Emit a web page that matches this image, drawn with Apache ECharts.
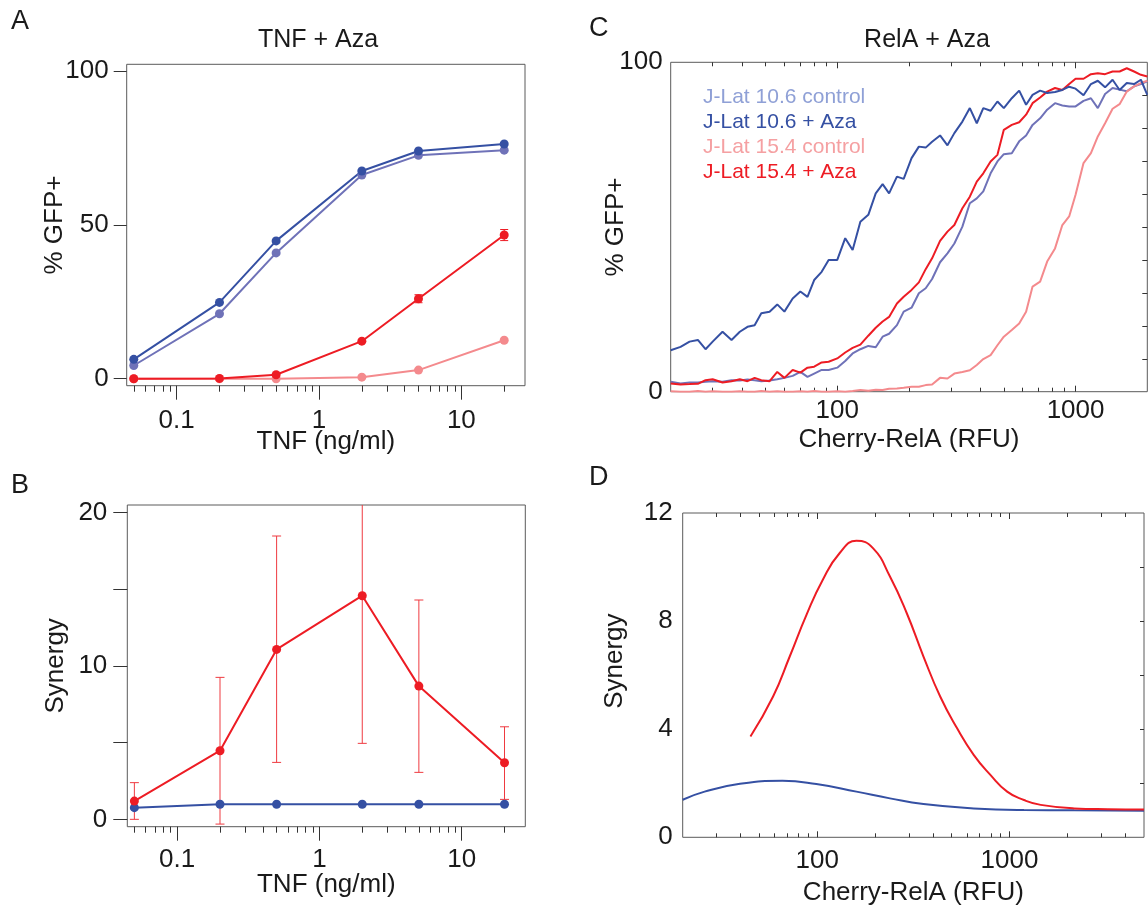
<!DOCTYPE html>
<html>
<head>
<meta charset="utf-8">
<title>TNF / RelA + Aza</title>
<script src="https://cdn.jsdelivr.net/npm/echarts@6/dist/echarts.min.js"></script>
<style>
  html, body { margin: 0; padding: 0; background: #fff; }
  #chart { width: 1148px; height: 913px; }
</style>
</head>
<body>
<div id="chart"></div>
<script>
// ---- panel A / B : TNF dose response ----
var tnfDose = [0.05, 0.2, 0.5, 2, 5, 20];
var gfpCtrl106 = [4.3, 21.1, 40.9, 66.2, 72.6, 74.3];
var gfpAza106 = [6.3, 24.8, 44.8, 67.5, 74.0, 76.3];
var gfpCtrl154 = [0, 0, 0, 0.5, 2.8, 12.5];
var gfpAza154 = [0, 0.1, 1.3, 12.2, 26.0, 46.7];
var gfpAza154Err = [0, 0, 0, 0, 1.3, 1.8];

var synergy106 = [0.76, 0.98, 0.98, 0.98, 0.98, 0.98];
var synergy154 = [1.19, 4.47, 11.07, 14.57, 8.68, 3.69];
var synergy154Lo = [0.0, -0.31, 3.71, 4.95, 3.06, 1.30];
var synergy154Hi = [2.39, 9.25, 18.46, 21.0, 14.29, 6.03];

var tnfMinorTicks = [0.05, 0.06, 0.07, 0.08, 0.09, 0.2, 0.3, 0.4, 0.5, 0.6, 0.7, 0.8, 0.9, 2, 3, 4, 5, 6, 7, 8, 9, 20];
var tnfMajorTicks = [0.1, 1, 10];
var gfpTicks = [0, 50, 100];
var synTnfTicks = [0, 5, 10, 15, 20];
var synTnfLabels = [0, 10, 20];

// ---- panel C : %GFP+ vs Cherry-RelA ----
var relaX = [20, 22, 24, 26, 28, 30, 33, 36, 39, 42, 45, 48, 52, 56, 60, 65, 70, 75, 80, 86, 92, 100,
  108, 116, 125, 135, 145, 155, 165, 178, 190, 205, 220, 235, 250, 270, 290, 310, 335, 360, 385, 410,
  440, 470, 500, 540, 580, 620, 660, 710, 760, 820, 880, 940, 1000, 1080, 1160, 1240, 1330, 1430,
  1530, 1640, 1760, 1880, 2000];
var relaCtrl106 = [3.0, 2.5, 2.8, 2.8, 3.0, 3.2, 3.0, 3.5, 3.4, 3.7, 3.5, 3.2, 3.4, 3.8, 4.2, 4.8, 6.0,
  4.5, 5.5, 6.6, 6.6, 7.3, 9.3, 11.6, 12.9, 13.9, 13.5, 16.7, 17.6, 20.2, 24.3, 25.5, 29.9, 31.4, 34.2,
  39.3, 42.0, 45.0, 50.1, 57.2, 58.7, 60.8, 66.3, 69.9, 72.1, 72.4, 76.0, 77.8, 81.0, 83.0, 85.6, 87.6,
  86.9, 86.6, 86.6, 88.3, 89.1, 86.1, 90.4, 92.2, 91.7, 91.2, 92.7, 93.4, 94.2];
var relaAza106 = [12.6, 13.6, 15.2, 15.7, 12.9, 15.2, 18.2, 15.7, 18.2, 19.7, 20.2, 23.8, 24.3, 26.5,
  24.3, 28.3, 30.4, 28.8, 33.9, 36.4, 40.0, 40.0, 46.6, 43.0, 51.6, 53.7, 60.2, 63.0, 60.2, 65.3, 64.6,
  70.9, 74.4, 74.1, 75.9, 77.8, 74.8, 78.5, 82.0, 86.1, 81.5, 86.1, 85.3, 88.1, 86.1, 89.1, 91.4, 87.1,
  90.1, 91.4, 90.7, 91.0, 91.6, 92.6, 92.0, 90.0, 93.4, 94.4, 92.4, 94.7, 91.6, 93.7, 93.4, 94.7, 90.1];
var relaCtrl154 = [0.1, 0, 0, 0.2, 0, 0.1, 0, 0, 0.1, 0, 0, 0.2, 0, 0.1, 0, 0, 0.1, 0, 0.2, 0, 0, 0.1,
  0, 0.2, 0.5, 0.3, 0.6, 0.5, 0.9, 1.0, 1.2, 1.5, 1.5, 2.0, 2.2, 4.2, 4.0, 5.5, 6.0, 6.5, 8.1, 9.9,
  11.1, 14.1, 16.7, 18.7, 20.7, 24.3, 31.9, 33.4, 39.5, 43.5, 50.6, 53.2, 59.8, 69.4, 72.4, 77.5, 81.5,
  85.9, 87.3, 91.1, 92.7, 93.7, 94.4];
var relaAza154 = [2.5, 2.2, 2.3, 2.4, 3.5, 3.8, 2.8, 3.2, 3.8, 3.2, 4.2, 3.5, 3.2, 6.0, 4.2, 6.6, 5.8,
  7.3, 7.6, 8.9, 9.1, 10.1, 11.9, 13.3, 14.3, 17.0, 19.4, 21.3, 22.7, 26.8, 28.8, 30.9, 33.2, 37.2, 40.5,
  45.8, 48.6, 50.6, 55.7, 59.2, 63.8, 66.3, 69.9, 71.9, 79.5, 81.0, 81.8, 84.1, 87.6, 89.3, 91.1, 92.2,
  91.6, 93.4, 95.0, 95.0, 96.4, 96.7, 96.4, 97.2, 97.2, 98.2, 97.2, 96.2, 95.7];

// ---- panel D : synergy vs Cherry-RelA ----
var synRelaX154 = [45, 59, 72, 88, 107, 131, 160, 195, 239, 292, 357, 436, 533, 651, 795, 972, 1188, 1452, 2168, 3242, 5000];
var synRela154 = [3.73, 5.21, 6.69, 8.23, 9.53, 10.52, 10.97, 10.70, 9.65, 8.30, 6.69, 5.21, 4.04, 3.05, 2.31, 1.69, 1.38, 1.20, 1.07, 1.04, 1.03];
var synRelaX106 = [20, 26, 39, 66, 99, 160, 239, 357, 651, 1188, 2168, 5000];
var synRela106 = [1.39, 1.69, 1.97, 2.09, 1.97, 1.69, 1.44, 1.23, 1.07, 1.01, 1.0, 0.98];

var relaMinorC = [30, 40, 50, 60, 70, 80, 90, 200, 300, 400, 500, 600, 700, 800, 900];
var relaMinorD = [30, 40, 50, 60, 70, 80, 90, 200, 300, 400, 500, 600, 700, 800, 900, 2000, 3000, 4000];
var relaMajor = [100, 1000];
var gfpRelaLabels = [0, 100];
var gfpRelaTicks = [10, 20, 30, 40, 50, 60, 70, 80, 90];
var synRelaLabels = [0, 4, 8, 12];
var synRelaTicks = [2, 4, 6, 8, 10];

var FONT = "'Liberation Sans', Arial, Helvetica, sans-serif";
var TEXT = '#1a1a1a';
var TICK = '#333';
var BORDER = '#5a5a5a';
var DARKBLUE = '#3550a3';
var LIGHTBLUE = '#6f72b8';
var RED = '#ed1c24';
var PINK = '#f48a8d';
var TICK_FONT = 26;
var NAME_FONT = 26;

var tnfRange = [0.0446, 28];
var relaRangeC = [20, 2000];
var relaRangeD = [20, 5000];

function pairs(xs, ys) {
  return xs.map(function (x, i) { return [x, ys[i]]; });
}

function logLabel(v) {
  var n = Math.pow(10, v);
  return n < 1 ? n.toFixed(1) : String(Math.round(n));
}

function xData(grid, range) {
  return { type: 'log', logBase: 10, gridIndex: grid, min: range[0], max: range[1], show: false,
    axisLine: { onZero: false } };
}

function xTicks(grid, range, ticks, len, inside, position) {
  return {
    type: 'value', gridIndex: grid, position: position,
    min: Math.log10(range[0]), max: Math.log10(range[1]),
    axisLine: { show: false, onZero: false },
    splitLine: { show: false },
    axisTick: { show: true, inside: inside, length: len,
      customValues: ticks.map(function (v) { return Math.log10(v); }),
      lineStyle: { color: TICK, width: 1 } },
    axisLabel: { show: false }
  };
}

function xLabelled(grid, range, ticks, len, inside, labels, margin, name, nameGap) {
  var ax = xTicks(grid, range, ticks, len, inside, 'bottom');
  ax.axisLabel = { show: true, customValues: labels.map(function (v) { return Math.log10(v); }),
    formatter: logLabel, margin: margin, fontSize: TICK_FONT, color: TEXT };
  ax.name = name;
  ax.nameLocation = 'middle';
  ax.nameGap = nameGap;
  ax.nameMoveOverlap = false;
  ax.nameTextStyle = { fontSize: NAME_FONT, color: TEXT };
  return ax;
}

function yAxisDef(grid, range, ticks, tickLen, labels, margin, name, nameGap, position, inside, namePad) {
  return {
    type: 'value', gridIndex: grid, position: position || 'left',
    min: range[0], max: range[1],
    axisLine: { show: false, onZero: false },
    splitLine: { show: false },
    axisTick: { show: ticks.length > 0, inside: !!inside, length: tickLen, customValues: ticks,
      lineStyle: { color: TICK, width: 1 } },
    axisLabel: labels.length ? { show: true, customValues: labels, margin: margin, fontSize: TICK_FONT, color: TEXT }
      : { show: false },
    name: name || '', nameLocation: 'middle', nameGap: nameGap || 0, nameMoveOverlap: false,
    nameTextStyle: { fontSize: NAME_FONT, color: TEXT, padding: namePad || 0 }
  };
}

function errorSeries(xIdx, yIdx, xs, lo, hi, color, capHalf) {
  var data = [];
  xs.forEach(function (x, i) { if (hi[i] > lo[i]) data.push([x, lo[i], hi[i]]); });
  return {
    type: 'custom', xAxisIndex: xIdx, yAxisIndex: yIdx, clip: true, silent: true,
    data: data,
    encode: { x: 0, y: [1, 2] },
    renderItem: function (params, api) {
      var x = api.value(0);
      var top = api.coord([x, api.value(2)]);
      var bot = api.coord([x, api.value(1)]);
      var st = { stroke: color, lineWidth: 1 };
      return { type: 'group', children: [
        { type: 'line', shape: { x1: top[0], y1: top[1], x2: bot[0], y2: bot[1] }, style: st },
        { type: 'line', shape: { x1: top[0] - capHalf, y1: top[1], x2: top[0] + capHalf, y2: top[1] }, style: st },
        { type: 'line', shape: { x1: bot[0] - capHalf, y1: bot[1], x2: bot[0] + capHalf, y2: bot[1] }, style: st }
      ] };
    }
  };
}

function dotLine(name, xIdx, yIdx, xs, ys, color) {
  return {
    name: name, type: 'line', xAxisIndex: xIdx, yAxisIndex: yIdx,
    data: pairs(xs, ys), symbol: 'circle', symbolSize: 9,
    itemStyle: { color: color }, lineStyle: { color: color, width: 2 }
  };
}

function plainLine(name, xIdx, yIdx, xs, ys, color, smooth) {
  return {
    name: name, type: 'line', xAxisIndex: xIdx, yAxisIndex: yIdx,
    data: pairs(xs, ys), showSymbol: false, smooth: !!smooth,
    itemStyle: { color: color }, lineStyle: { color: color, width: 2 }
  };
}

var frame = { show: true, borderColor: BORDER, borderWidth: 1, backgroundColor: 'transparent',
  outerBoundsMode: 'none', containLabel: false };

var chart = echarts.init(document.getElementById('chart'), null, { renderer: 'canvas' });

var option = {
  animation: false,
  backgroundColor: '#ffffff',
  textStyle: { fontFamily: FONT },
  title: [
    { text: 'A', left: 11, top: 8 },
    { text: 'B', left: 11, top: 472 },
    { text: 'C', left: 589, top: 15 },
    { text: 'D', left: 589, top: 464 },
    { text: 'TNF + Aza', left: 318, top: 28, textAlign: 'center' },
    { text: 'RelA + Aza', left: 927, top: 28, textAlign: 'center' }
  ].map(function (t, i) {
    t.padding = 0;
    t.textStyle = { fontSize: i < 4 ? 27 : 25, fontWeight: 'normal', color: TEXT, fontFamily: FONT };
    return t;
  }),
  legend: {
    data: [
      { name: 'J-Lat 10.6 control', textStyle: { color: '#8fa0d6' } },
      { name: 'J-Lat 10.6 + Aza', textStyle: { color: DARKBLUE } },
      { name: 'J-Lat 15.4 control', textStyle: { color: '#f5a0a2' } },
      { name: 'J-Lat 15.4 + Aza', textStyle: { color: RED } }
    ],
    orient: 'vertical', left: 698, top: 85, padding: 0,
    icon: 'none', itemWidth: 0, itemHeight: 10, itemGap: 0,
    selectedMode: false,
    textStyle: { fontSize: 21, lineHeight: 25, fontFamily: FONT }
  },
  grid: [
    Object.assign({ left: 126.7, top: 64.3, width: 398.3, height: 321.4 }, frame),
    Object.assign({ left: 127.3, top: 505, width: 398, height: 321.7 }, frame),
    Object.assign({ left: 670.7, top: 62.3, width: 476.6, height: 329.4 }, frame),
    Object.assign({ left: 682.7, top: 513, width: 461.3, height: 324.3 }, frame)
  ],
  xAxis: [
    xData(0, tnfRange),
    xTicks(0, tnfRange, tnfMinorTicks, 6, false, 'bottom'),
    xLabelled(0, tnfRange, tnfMajorTicks, 14, false, tnfMajorTicks, 22, 'TNF (ng/ml)', 43),
    xData(1, tnfRange),
    xTicks(1, tnfRange, tnfMinorTicks, 6, false, 'bottom'),
    xLabelled(1, tnfRange, tnfMajorTicks, 14, false, tnfMajorTicks, 20, 'TNF (ng/ml)', 45),
    xData(2, relaRangeC),
    xTicks(2, relaRangeC, relaMinorC, 4, true, 'bottom'),
    xLabelled(2, relaRangeC, relaMajor, 6, true, relaMajor, 6, 'Cherry-RelA (RFU)', 35),
    xTicks(2, relaRangeC, relaMinorC, 4, true, 'top'),
    xTicks(2, relaRangeC, relaMajor, 6, true, 'top'),
    xData(3, relaRangeD),
    xTicks(3, relaRangeD, relaMinorD, 4, true, 'bottom'),
    xLabelled(3, relaRangeD, relaMajor, 6, true, relaMajor, 11, 'Cherry-RelA (RFU)', 43),
    xTicks(3, relaRangeD, relaMinorD, 4, true, 'top'),
    xTicks(3, relaRangeD, relaMajor, 6, true, 'top')
  ],
  yAxis: [
    yAxisDef(0, [-2.27, 102.2], gfpTicks, 13, gfpTicks, 18, '% GFP+', 59),
    yAxisDef(1, [-0.48, 20.48], synTnfTicks, 14, synTnfLabels, 20, 'Synergy', 58),
    yAxisDef(2, [0, 100], [], 0, gfpRelaLabels, 8, '% GFP+', 42),
    yAxisDef(2, [0, 100], gfpRelaTicks, 5, [], 0, '', 0, 'right', true),
    yAxisDef(3, [0, 12], [], 0, synRelaLabels, 10, 'Synergy', 55, 'left', false, [0, 0, 0, 28]),
    yAxisDef(3, [0, 12], synRelaTicks, 4, [], 0, '', 0, 'right', true)
  ],
  series: [
    // A
    dotLine('A 10.6 control', 0, 0, tnfDose, gfpCtrl106, LIGHTBLUE),
    dotLine('A 10.6 + Aza', 0, 0, tnfDose, gfpAza106, DARKBLUE),
    dotLine('A 15.4 control', 0, 0, tnfDose, gfpCtrl154, PINK),
    errorSeries(0, 0, tnfDose,
      gfpAza154.map(function (v, i) { return v - gfpAza154Err[i]; }),
      gfpAza154.map(function (v, i) { return v + gfpAza154Err[i]; }), RED, 4),
    dotLine('A 15.4 + Aza', 0, 0, tnfDose, gfpAza154, RED),
    // B
    errorSeries(3, 1, tnfDose, synergy154Lo, synergy154Hi, '#ef3a40', 4.5),
    dotLine('B 10.6', 3, 1, tnfDose, synergy106, DARKBLUE),
    dotLine('B 15.4', 3, 1, tnfDose, synergy154, RED),
    // C
    plainLine('J-Lat 10.6 control', 6, 2, relaX, relaCtrl106, LIGHTBLUE),
    plainLine('J-Lat 15.4 control', 6, 2, relaX, relaCtrl154, PINK),
    plainLine('J-Lat 15.4 + Aza', 6, 2, relaX, relaAza154, RED),
    plainLine('J-Lat 10.6 + Aza', 6, 2, relaX, relaAza106, DARKBLUE),
    // D
    plainLine('D 10.6', 11, 4, synRelaX106, synRela106, DARKBLUE, true),
    plainLine('D 15.4', 11, 4, synRelaX154, synRela154, RED, true)
  ]
};

chart.setOption(option);
</script>
</body>
</html>
